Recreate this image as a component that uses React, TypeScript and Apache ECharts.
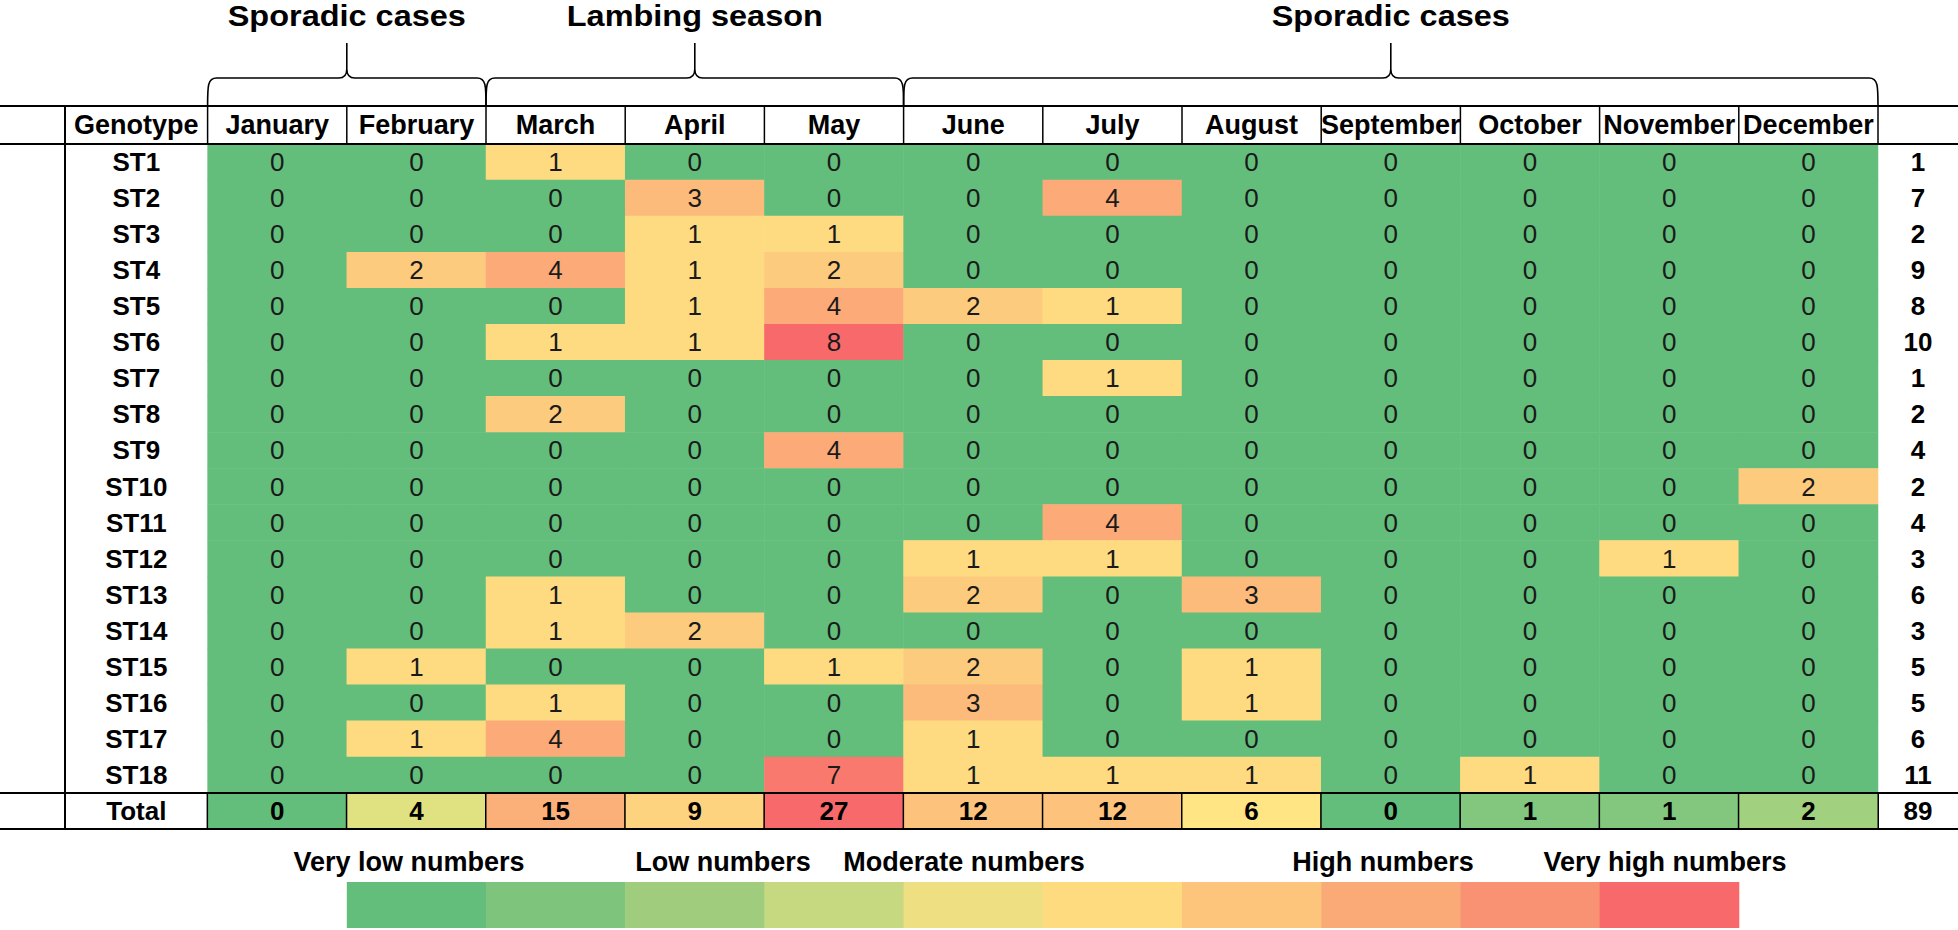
import React, { useEffect, useRef } from "react";
import * as echarts from "echarts";

// ---------- DATA ----------
const MONTHS = ["January", "February", "March", "April", "May", "June", "July", "August", "September", "October", "November", "December"];
const GENOTYPES = ["ST1", "ST2", "ST3", "ST4", "ST5", "ST6", "ST7", "ST8", "ST9", "ST10", "ST11", "ST12", "ST13", "ST14", "ST15", "ST16", "ST17", "ST18"];

const ST1 = [0, 0, 1, 0, 0, 0, 0, 0, 0, 0, 0, 0];
const ST2 = [0, 0, 0, 3, 0, 0, 4, 0, 0, 0, 0, 0];
const ST3 = [0, 0, 0, 1, 1, 0, 0, 0, 0, 0, 0, 0];
const ST4 = [0, 2, 4, 1, 2, 0, 0, 0, 0, 0, 0, 0];
const ST5 = [0, 0, 0, 1, 4, 2, 1, 0, 0, 0, 0, 0];
const ST6 = [0, 0, 1, 1, 8, 0, 0, 0, 0, 0, 0, 0];
const ST7 = [0, 0, 0, 0, 0, 0, 1, 0, 0, 0, 0, 0];
const ST8 = [0, 0, 2, 0, 0, 0, 0, 0, 0, 0, 0, 0];
const ST9 = [0, 0, 0, 0, 4, 0, 0, 0, 0, 0, 0, 0];
const ST10 = [0, 0, 0, 0, 0, 0, 0, 0, 0, 0, 0, 2];
const ST11 = [0, 0, 0, 0, 0, 0, 4, 0, 0, 0, 0, 0];
const ST12 = [0, 0, 0, 0, 0, 1, 1, 0, 0, 0, 1, 0];
const ST13 = [0, 0, 1, 0, 0, 2, 0, 3, 0, 0, 0, 0];
const ST14 = [0, 0, 1, 2, 0, 0, 0, 0, 0, 0, 0, 0];
const ST15 = [0, 1, 0, 0, 1, 2, 0, 1, 0, 0, 0, 0];
const ST16 = [0, 0, 1, 0, 0, 3, 0, 1, 0, 0, 0, 0];
const ST17 = [0, 1, 4, 0, 0, 1, 0, 0, 0, 0, 0, 0];
const ST18 = [0, 0, 0, 0, 7, 1, 1, 1, 0, 1, 0, 0];
const COUNTS = [ST1, ST2, ST3, ST4, ST5, ST6, ST7, ST8, ST9, ST10, ST11, ST12, ST13, ST14, ST15, ST16, ST17, ST18];

const PERIOD_LABELS = ["Sporadic cases", "Lambing season", "Sporadic cases"];
const PERIOD_FIRST_MONTH = [0, 2, 5];
const PERIOD_LAST_MONTH = [1, 4, 11];

const LEGEND_LABELS = ["Very low numbers", "Low numbers", "Moderate numbers", "High numbers", "Very high numbers"];
const LEGEND_COLORS = ["#63BE7B", "#7FC47C", "#A0CC7D", "#C6D980", "#EEDF82", "#FFDB80", "#FDC47C", "#F9AA77", "#F99272", "#F8696B"];

// ---------- LAYOUT ----------
const W = 1958;
const H = 930;
const LEFT_RULE = 65;
const GRID_L = 207.6;
const GRID_R = 1878;
const COL_W = (GRID_R - GRID_L) / 12;
const HEAD_TOP = 106;
const HEAD_BOT = 144;
const TABLE_BOT = 829;
const ROW_H = (TABLE_BOT - HEAD_BOT) / 19;
const BRACE_Y = 78;
const BRACE_TOP = 43;
const TITLE_Y = 16;
const LEGEND_TEXT_Y = 862;
const LEGEND_BAR_Y = 882;
const LEGEND_BAR_H = 46;
const LEGEND_TEXT_X = [409, 723, 964, 1383, 1665];
const FONT = "'Liberation Sans', Arial, Helvetica, sans-serif";

// Excel-like 3-colour scale (min green, 50th percentile yellow, max red)
const C_MIN = [99, 190, 123];
const C_MID = [255, 235, 132];
const C_MAX = [248, 105, 107];
function lerp(a: number[], b: number[], t: number) {
  const c = a.map((v, i) => Math.round(v + (b[i] - v) * t));
  return "rgb(" + c.join(",") + ")";
}
function percentile(vals: number[], p: number) {
  const s = [...vals].sort((a, b) => a - b);
  const pos = (s.length - 1) * p;
  const lo = Math.floor(pos);
  const hi = Math.ceil(pos);
  return s[lo] + (s[hi] - s[lo]) * (pos - lo);
}
function makeScale(vals: number[]) {
  const min = Math.min(...vals);
  const max = Math.max(...vals);
  const mid = percentile(vals, 0.5);
  return (v: number) => {
    if (v <= mid) {
      const t = mid > min ? (v - min) / (mid - min) : 0;
      return lerp(C_MIN, C_MID, t);
    }
    const t = max > mid ? (v - mid) / (max - mid) : 1;
    return lerp(C_MID, C_MAX, t);
  };
}

function bracePath(a: number, b: number, m: number) {
  const yb = BRACE_Y;
  const bot = HEAD_TOP;
  const top = BRACE_TOP;
  return [
    `M ${a} ${bot}`,
    `C ${a} ${yb + 8} ${a} ${yb} ${a + 9} ${yb}`,
    `L ${m - 8} ${yb}`,
    `C ${m - 2} ${yb} ${m} ${yb - 3} ${m} ${yb - 9}`,
    `L ${m} ${top}`,
    `M ${m} ${yb - 9}`,
    `C ${m} ${yb - 3} ${m + 2} ${yb} ${m + 8} ${yb}`,
    `L ${b - 9} ${yb}`,
    `C ${b} ${yb} ${b} ${yb + 8} ${b} ${bot}`,
  ].join(" ");
}

export default function App() {
  const ref = useRef<HTMLDivElement>(null);

  useEffect(() => {
    if (!ref.current) return;
    const chart = echarts.init(ref.current, undefined, { renderer: "svg" });

    const rowTotals = COUNTS.map((r) => r.reduce((s, v) => s + v, 0));
    const monthTotals = MONTHS.map((_, j) => COUNTS.reduce((s, r) => s + r[j], 0));
    const grandTotal = rowTotals.reduce((s, v) => s + v, 0);

    const cellScale = makeScale(COUNTS.flat());
    const totalScale = makeScale(monthTotals);

    const data: any[] = [];
    COUNTS.forEach((row, i) => {
      row.forEach((v, j) => {
        data.push({ value: [j, i, v], itemStyle: { color: cellScale(v) } });
      });
    });
    monthTotals.forEach((v, j) => {
      data.push({
        value: [j, COUNTS.length, v],
        itemStyle: { color: totalScale(v), borderColor: "#000", borderWidth: 1.5 },
        label: { fontWeight: "bold", color: "#000" },
      });
    });

    const yCats = [...GENOTYPES, "Total"];

    const graphics: any[] = [];
    [HEAD_TOP, HEAD_BOT, HEAD_BOT + ROW_H * COUNTS.length, TABLE_BOT].forEach((y) => {
      graphics.push({
        type: "line",
        shape: { x1: 0, y1: y, x2: W, y2: y },
        style: { stroke: "#000", lineWidth: 2 },
        z: 10,
      });
    });
    graphics.push({
      type: "line",
      shape: { x1: LEFT_RULE, y1: HEAD_TOP, x2: LEFT_RULE, y2: TABLE_BOT },
      style: { stroke: "#000", lineWidth: 2 },
      z: 10,
    });
    for (let i = 0; i <= 12; i++) {
      const x = GRID_L + i * COL_W;
      graphics.push({
        type: "line",
        shape: { x1: x, y1: HEAD_TOP, x2: x, y2: HEAD_BOT },
        style: { stroke: "#000", lineWidth: 1.5 },
        z: 10,
      });
    }
    graphics.push({
      type: "text",
      x: (LEFT_RULE + GRID_L) / 2,
      y: (HEAD_TOP + HEAD_BOT) / 2,
      style: {
        text: "Genotype",
        font: `bold 27px ${FONT}`,
        fill: "#000",
        align: "center",
        verticalAlign: "middle",
        textAlign: "center",
        textVerticalAlign: "middle",
      },
      z: 10,
    });
    PERIOD_LABELS.forEach((label, k) => {
      const a = GRID_L + PERIOD_FIRST_MONTH[k] * COL_W;
      const b = GRID_L + (PERIOD_LAST_MONTH[k] + 1) * COL_W;
      const m = (a + b) / 2;
      const name = "brace" + k;
      echarts.graphic.registerShape(name, echarts.graphic.extendPath(bracePath(a, b, m), {}) as any);
      graphics.push({
        type: name,
        x: 0,
        y: 0,
        style: { stroke: "#000", lineWidth: 1.6, fill: "none" },
        z: 10,
      });
      graphics.push({
        type: "text",
        x: m,
        y: TITLE_Y,
        scaleX: 1.12,
        style: {
          text: label,
          font: `bold 29px ${FONT}`,
          fill: "#000",
          align: "center",
          verticalAlign: "middle",
          textAlign: "center",
          textVerticalAlign: "middle",
        },
        z: 10,
      });
    });
    LEGEND_COLORS.forEach((c, i) => {
      graphics.push({
        type: "rect",
        shape: { x: GRID_L + (i + 1) * COL_W, y: LEGEND_BAR_Y, width: COL_W + 0.5, height: LEGEND_BAR_H },
        style: { fill: c },
        z: 5,
      });
    });
    LEGEND_LABELS.forEach((t, i) => {
      graphics.push({
        type: "text",
        x: LEGEND_TEXT_X[i],
        y: LEGEND_TEXT_Y,
        style: {
          text: t,
          font: `bold 27px ${FONT}`,
          fill: "#000",
          align: "center",
          verticalAlign: "middle",
          textAlign: "center",
          textVerticalAlign: "middle",
        },
        z: 10,
      });
    });

    chart.setOption({
      animation: false,
      backgroundColor: "#fff",
      grid: {
        left: GRID_L,
        right: W - GRID_R,
        top: HEAD_BOT,
        bottom: H - TABLE_BOT,
        containLabel: false,
      },
      // required by heatmap; only fixes opacity so each cell keeps its own colour
      visualMap: {
        show: false,
        type: "continuous",
        seriesIndex: 0,
        dimension: 2,
        min: 0,
        max: 1000,
        inRange: { opacity: [1, 1] },
        outOfRange: { opacity: [1, 1] },
      },
      xAxis: {
        type: "category",
        data: MONTHS,
        position: "top",
        axisLine: { show: false },
        axisTick: { show: false },
        splitLine: { show: false },
        axisLabel: {
          interval: 0,
          margin: (HEAD_BOT - HEAD_TOP) / 2,
          verticalAlign: "middle",
          fontWeight: "bold",
          fontSize: 27,
          fontFamily: FONT,
          color: "#000",
        },
      },
      yAxis: [
        {
          type: "category",
          data: yCats,
          inverse: true,
          axisLine: { show: false },
          axisTick: { show: false },
          splitLine: { show: false },
          axisLabel: {
            interval: 0,
            margin: GRID_L - (LEFT_RULE + GRID_L) / 2,
            align: "center",
            fontWeight: "bold",
            fontSize: 26,
            fontFamily: FONT,
            color: "#000",
          },
        },
        {
          type: "category",
          data: yCats,
          inverse: true,
          position: "right",
          axisLine: { show: false },
          axisTick: { show: false },
          splitLine: { show: false },
          axisLabel: {
            interval: 0,
            margin: (W - GRID_R) / 2,
            align: "center",
            fontWeight: "bold",
            fontSize: 26,
            fontFamily: FONT,
            color: "#000",
            formatter: (_v: string, idx: number) => String(idx < rowTotals.length ? rowTotals[idx] : grandTotal),
          },
        },
      ],
      series: [
        {
          type: "heatmap",
          xAxisIndex: 0,
          yAxisIndex: 0,
          data,
          label: {
            show: true,
            formatter: (p: any) => String(p.value[2]),
            fontSize: 26,
            fontFamily: FONT,
            color: "#1a1a1a",
          },
          emphasis: { disabled: true },
        },
      ],
      graphic: { elements: graphics },
    });

    return () => chart.dispose();
  }, []);

  return <div ref={ref} style={{ position: "absolute", left: 0, top: 0, width: W, height: H }} />;
}
